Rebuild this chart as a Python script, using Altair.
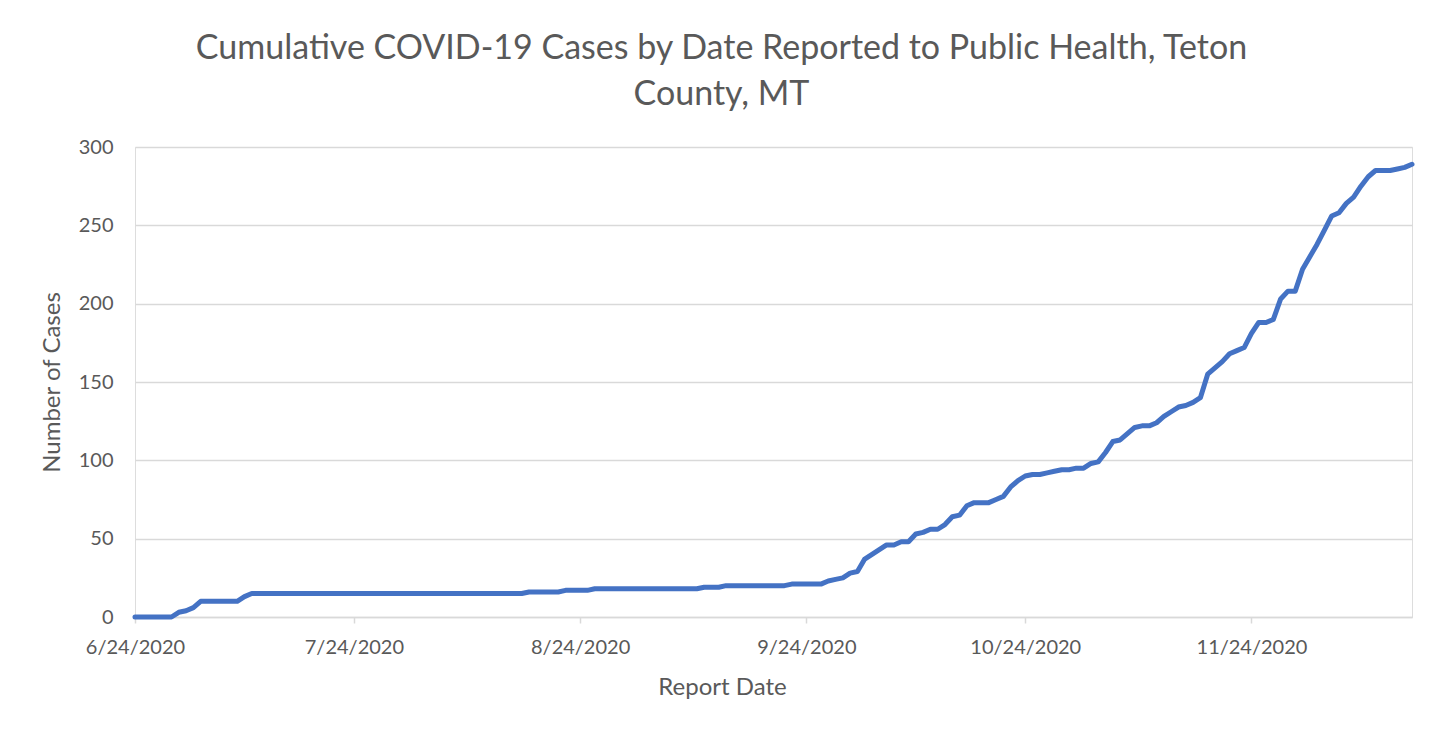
import altair as alt
import pandas as pd

start_date = "2020-06-24"
end_date = "2020-12-16"

cases = [
    0, 0, 0, 0, 0, 0, 3, 4, 6, 10,          # d0-d9
    10, 10, 10, 10, 10, 13, 15, 15, 15, 15,  # d10-d19
    15, 15, 15, 15, 15, 15, 15, 15, 15, 15,  # d20-d29
    15, 15, 15, 15, 15, 15, 15, 15, 15, 15,  # d30-d39
    15, 15, 15, 15, 15, 15, 15, 15, 15, 15,  # d40-d49
    15, 15, 15, 15, 16, 16, 16, 16, 16, 17,  # d50-d59
    17, 17, 17, 18, 18, 18, 18, 18, 18, 18,  # d60-d69
    18, 18, 18, 18, 18, 18, 18, 18, 19, 19,  # d70-d79
    19, 20, 20, 20, 20, 20, 20, 20, 20, 20,  # d80-d89
    21, 21, 21, 21, 21, 23, 24, 25, 28, 29,  # d90-d99
    37, 40, 43, 46, 46, 48, 48, 53, 54, 56,  # d100-d109
    56, 59, 64, 65, 71, 73, 73, 73, 75, 77,  # d110-d119
    83, 87, 90, 91, 91, 92, 93, 94, 94, 95,  # d120-d129
    95, 98, 99, 105, 112, 113, 117, 121, 122, 122,  # d130-d139
    124, 128, 131, 134, 135, 137, 140, 155, 159, 163,  # d140-d149
    168, 170, 172, 181, 188, 188, 190, 203, 208, 208,  # d150-d159
    222, 230, 238, 247, 256, 258, 264, 268, 275, 281,  # d160-d169
    285, 285, 285, 286, 287, 289,            # d170-d175
]

dates = list(pd.date_range(start_date, periods=len(cases), freq="D").strftime("%Y-%m-%d"))

tick_dates = [(2020, 6, 24), (2020, 7, 24), (2020, 8, 24), (2020, 9, 24), (2020, 10, 24), (2020, 11, 24)]
y_ticks = [0, 50, 100, 150, 200, 250, 300]

df = pd.DataFrame({"date": dates, "cases": cases})

TEXT = "#595959"
GRID = "#d9d9d9"
FONT = "Lato"

x_axis = alt.Axis(
    values=[alt.DateTime(year=y, month=m, date=d, utc=True) for (y, m, d) in tick_dates],
    labelExpr="utcFormat(datum.value, '%-m/%-d/%Y')",
    title="Report Date",
    titleX=587,
    titleY=70,
    titleBaseline="middle",
    titleFont=FONT,
    titleFontSize=24,
    titleFontWeight="normal",
    titleColor=TEXT,
    labelFont=FONT,
    labelFontSize=20,
    labelColor=TEXT,
    labelPadding=14,
    labelOverlap=False,
    labelFlush=False,
    grid=False,
    domain=True,
    domainColor=GRID,
    domainWidth=1.5,
    ticks=True,
    tickColor=GRID,
    tickSize=6,
    tickWidth=1.5,
)

y_axis = alt.Axis(
    values=y_ticks,
    title="Number of Cases",
    titleX=-83,
    titleY=235,
    titleAngle=270,
    titleBaseline="middle",
    titleAlign="center",
    titleFont=FONT,
    titleFontSize=24,
    titleFontWeight="normal",
    titleColor=TEXT,
    labelFont=FONT,
    labelFontSize=20,
    labelColor=TEXT,
    labelPadding=22,
    grid=True,
    gridColor=GRID,
    gridWidth=1.5,
    domain=False,
    ticks=False,
)

chart = (
    alt.Chart(df)
    .mark_line(color="#4472C4", strokeWidth=5, strokeCap="round", strokeJoin="round")
    .encode(
        x=alt.X(
            "date:T",
            scale=alt.Scale(
                type="utc",
                domain=[
                    alt.DateTime(year=2020, month=6, date=24, utc=True),
                    alt.DateTime(year=2020, month=12, date=16, utc=True),
                ],
                nice=False,
            ),
            axis=x_axis,
        ),
        y=alt.Y(
            "cases:Q",
            scale=alt.Scale(domain=[0, 300], nice=False),
            axis=y_axis,
        ),
    )
    .properties(
        width=1277,
        height=470,
        title=alt.TitleParams(
            text=["Cumulative COVID-19 Cases by Date Reported to Public Health, Teton", "County, MT"],
            font=FONT,
            fontSize=34,
            fontWeight="normal",
            color=TEXT,
            anchor="middle",
            dx=-52,
            lineHeight=46,
            offset=25,
        ),
        autosize=alt.AutoSizeParams(type="none"),
        padding={"left": 127, "top": 139, "right": 22, "bottom": 100},
    )
    .configure_view(stroke=None)
    .configure(background="white")
)

chart.save("out.html", embed_options={"renderer": "svg", "actions": False})
